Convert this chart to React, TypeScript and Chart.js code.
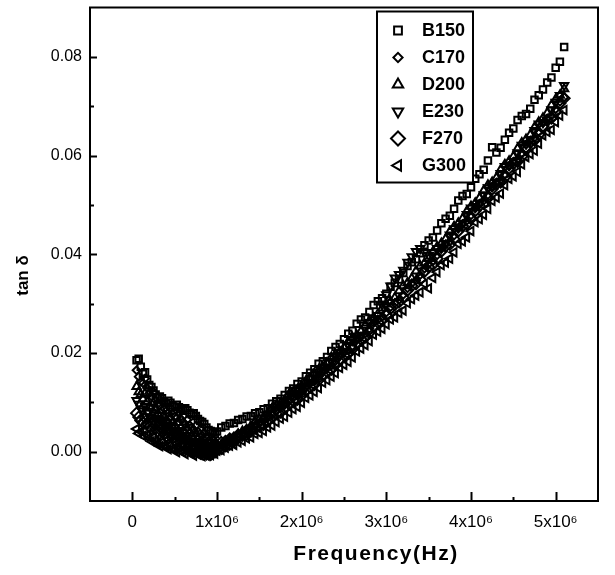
import React, { useEffect, useRef } from 'react';
import { Chart, registerables } from 'chart.js';
import { drawPoint } from 'chart.js/helpers';

Chart.register(...registerables);

// Frequencies in MHz (converted to Hz for the chart)
const FREQ_MHZ = [
  0.05, 0.075, 0.1, 0.125, 0.15, 0.175, 0.2, 0.225, 0.25, 0.275,
  0.3, 0.325, 0.35, 0.375, 0.4, 0.425, 0.45, 0.475, 0.5, 0.525,
  0.55, 0.575, 0.6, 0.625, 0.65, 0.675, 0.7, 0.725, 0.75, 0.775,
  0.8, 0.825, 0.85, 0.875, 0.9, 0.925, 0.95, 0.975, 1.0,
  1.05, 1.1, 1.15, 1.2, 1.25, 1.3, 1.35, 1.4, 1.45, 1.5,
  1.55, 1.6, 1.65, 1.7, 1.75, 1.8, 1.85, 1.9, 1.95, 2.0,
  2.05, 2.1, 2.15, 2.2, 2.25, 2.3, 2.35, 2.4, 2.45, 2.5,
  2.55, 2.6, 2.65, 2.7, 2.75, 2.8, 2.85, 2.9, 2.95, 3.0,
  3.05, 3.1, 3.15, 3.2, 3.25, 3.3, 3.35, 3.4, 3.45, 3.5,
  3.55, 3.6, 3.65, 3.7, 3.75, 3.8, 3.85, 3.9, 3.95, 4.0,
  4.05, 4.1, 4.15, 4.2, 4.25, 4.3, 4.35, 4.4, 4.45, 4.5,
  4.55, 4.6, 4.65, 4.7, 4.75, 4.8, 4.85, 4.9, 4.95, 5.0,
  5.05, 5.1,
];

const B150 = [
  0.0185, 0.0188, 0.0172, 0.0158, 0.0161, 0.0146, 0.0135, 0.0131, 0.0124, 0.0116,
  0.0109, 0.0112, 0.0108, 0.0101, 0.0098, 0.0103, 0.0099, 0.0094, 0.0091, 0.0095,
  0.009, 0.0086, 0.0083, 0.0088, 0.0084, 0.0079, 0.0076, 0.0078, 0.0072, 0.0066,
  0.0062, 0.006, 0.0056, 0.0049, 0.0044, 0.0042, 0.0039, 0.0036, 0.0041,
  0.0049, 0.0052, 0.0057, 0.0058, 0.0064, 0.0066, 0.0071, 0.0072, 0.0078, 0.008,
  0.0086, 0.0088, 0.0097, 0.0102, 0.0107, 0.0115, 0.0123, 0.0128, 0.0137, 0.0142,
  0.0153, 0.016, 0.0167, 0.0178, 0.0183, 0.0192, 0.0204, 0.0212, 0.0218, 0.0228,
  0.0239, 0.0245, 0.0259, 0.0268, 0.0272, 0.0283, 0.0297, 0.0305, 0.0311, 0.032,
  0.0334, 0.0342, 0.0349, 0.0362, 0.0376, 0.0384, 0.039, 0.0402, 0.0418, 0.0428,
  0.0434, 0.0448, 0.0463, 0.0472, 0.0478, 0.0492, 0.0509, 0.0518, 0.0522, 0.0536,
  0.0553, 0.0562, 0.0571, 0.059, 0.0617, 0.0606, 0.0616, 0.0632, 0.0646, 0.0655,
  0.0672, 0.068, 0.0684, 0.0695, 0.0713, 0.0722, 0.0734, 0.0748, 0.0758, 0.0778,
  0.079, 0.082,
];
const C170 = [
  0.0165, 0.0152, 0.0142, 0.0139, 0.0148, 0.0129, 0.0118, 0.0112, 0.0121, 0.0104,
  0.0096, 0.0094, 0.0101, 0.0087, 0.0083, 0.0078, 0.0088, 0.0076, 0.0071, 0.0069,
  0.0077, 0.0066, 0.006, 0.0055, 0.0064, 0.0054, 0.0049, 0.0044, 0.0052, 0.0041,
  0.0036, 0.0032, 0.0038, 0.0028, 0.0022, 0.0019, 0.0025, 0.0018, 0.0015,
  0.0022, 0.0024, 0.0029, 0.0031, 0.0037, 0.0038, 0.0046, 0.0049, 0.0051, 0.0057,
  0.0066, 0.0071, 0.0074, 0.0082, 0.009, 0.0095, 0.0104, 0.011, 0.0113, 0.0121,
  0.0131, 0.0138, 0.0143, 0.0152, 0.0162, 0.0169, 0.0174, 0.0184, 0.0194, 0.0201,
  0.0205, 0.0214, 0.0226, 0.0233, 0.0239, 0.0249, 0.0261, 0.0268, 0.0273, 0.0282,
  0.0293, 0.0301, 0.0308, 0.0318, 0.0331, 0.0341, 0.0347, 0.0358, 0.0371, 0.038,
  0.0386, 0.0398, 0.0411, 0.042, 0.0426, 0.0438, 0.0452, 0.0461, 0.0468, 0.0479,
  0.0493, 0.0502, 0.0509, 0.052, 0.0535, 0.0544, 0.0551, 0.0562, 0.0578, 0.0587,
  0.0593, 0.0605, 0.0622, 0.063, 0.0636, 0.0648, 0.0666, 0.0675, 0.0681, 0.0694,
  0.0709, 0.0718,
];
const D200 = [
  0.0132, 0.0121, 0.0116, 0.0107, 0.0118, 0.0101, 0.0092, 0.0088, 0.0099, 0.0084,
  0.0077, 0.0071, 0.0083, 0.0068, 0.0063, 0.0059, 0.007, 0.0058, 0.0052, 0.0047,
  0.0059, 0.0049, 0.0042, 0.0038, 0.0048, 0.0037, 0.0031, 0.0027, 0.0036, 0.0026,
  0.002, 0.0017, 0.0024, 0.0015, 0.0011, 0.0009, 0.0016, 0.0012, 0.0012,
  0.0014, 0.0018, 0.0024, 0.0027, 0.0035, 0.0041, 0.0045, 0.0052, 0.0061, 0.0066,
  0.007, 0.0078, 0.0088, 0.0094, 0.0098, 0.0104, 0.0116, 0.0121, 0.0126, 0.0134,
  0.0143, 0.0149, 0.0159, 0.0166, 0.0172, 0.018, 0.0191, 0.0198, 0.0203, 0.0211,
  0.0223, 0.0231, 0.0236, 0.0244, 0.0256, 0.0265, 0.0271, 0.0279, 0.0291, 0.0299,
  0.0304, 0.0312, 0.0326, 0.0336, 0.0342, 0.0351, 0.0366, 0.0376, 0.0382, 0.0391,
  0.0405, 0.0415, 0.0422, 0.0431, 0.0446, 0.0456, 0.0463, 0.0472, 0.0487, 0.0497,
  0.0504, 0.0514, 0.0529, 0.054, 0.0546, 0.0555, 0.0571, 0.0582, 0.0589, 0.0598,
  0.0614, 0.0626, 0.0633, 0.0642, 0.0657, 0.0668, 0.0676, 0.0686, 0.0702, 0.0714,
  0.0722, 0.0735,
];
const E230 = [
  0.0104, 0.0096, 0.0087, 0.0083, 0.0092, 0.0079, 0.0071, 0.0068, 0.0078, 0.0064,
  0.0059, 0.0055, 0.0065, 0.0052, 0.0047, 0.0043, 0.0054, 0.0041, 0.0037, 0.0034,
  0.0043, 0.0032, 0.0027, 0.0023, 0.0033, 0.0022, 0.0016, 0.0013, 0.0021, 0.0012,
  0.0007, 0.0004, 0.0011, 0.0003, 0.0002, 0.0001, 0.0007, 0.0005, 0.0007,
  0.0009, 0.0015, 0.0021, 0.0024, 0.003, 0.0036, 0.0042, 0.0046, 0.0054, 0.0059,
  0.0063, 0.0069, 0.0077, 0.0083, 0.0091, 0.0097, 0.0102, 0.0109, 0.0119, 0.0126,
  0.013, 0.0139, 0.015, 0.0158, 0.0163, 0.0171, 0.0183, 0.0192, 0.0196, 0.0203,
  0.0216, 0.0226, 0.023, 0.0236, 0.0251, 0.0262, 0.0267, 0.0276, 0.0298, 0.0318,
  0.0336, 0.0352, 0.0359, 0.0368, 0.0384, 0.0395, 0.0406, 0.0412, 0.0404, 0.0398,
  0.0404, 0.0412, 0.0415, 0.0422, 0.0439, 0.0452, 0.0456, 0.0463, 0.0481, 0.0494,
  0.0497, 0.0503, 0.0521, 0.0535, 0.0539, 0.0546, 0.0564, 0.0578, 0.0581, 0.0588,
  0.0606, 0.0621, 0.0624, 0.0632, 0.0651, 0.0664, 0.0667, 0.0672, 0.0693, 0.0708,
  0.0722, 0.0742,
];
const F270 = [
  0.0078, 0.007, 0.0063, 0.0059, 0.0069, 0.0057, 0.0051, 0.0047, 0.0058, 0.0046,
  0.0041, 0.0037, 0.0047, 0.0036, 0.0031, 0.0028, 0.0038, 0.0027, 0.0022, 0.0019,
  0.0029, 0.0018, 0.0013, 0.0011, 0.002, 0.0009, 0.0005, 0.0002, 0.0011, 0.0001,
  -0.0001, -0.0003, 0.0004, -0.0005, -0.0004, -0.0006, 0.0002, -0.0001, 0.0004,
  0.0006, 0.0012, 0.0015, 0.0021, 0.0028, 0.0033, 0.0035, 0.0041, 0.0048, 0.0052,
  0.0055, 0.0062, 0.0071, 0.0077, 0.008, 0.0088, 0.0097, 0.0103, 0.0106, 0.0114,
  0.0124, 0.0131, 0.0136, 0.0145, 0.0155, 0.0162, 0.0167, 0.0176, 0.0187, 0.0195,
  0.0199, 0.0208, 0.022, 0.0228, 0.0232, 0.0241, 0.0254, 0.0262, 0.0267, 0.0276,
  0.029, 0.0298, 0.0303, 0.0312, 0.0327, 0.0336, 0.034, 0.0349, 0.0365, 0.0374,
  0.0379, 0.0391, 0.0406, 0.0416, 0.042, 0.0431, 0.0447, 0.0457, 0.0461, 0.0472,
  0.0488, 0.0498, 0.0503, 0.0514, 0.0532, 0.0542, 0.0546, 0.0556, 0.0574, 0.0584,
  0.0588, 0.0598, 0.0617, 0.0627, 0.0631, 0.0642, 0.066, 0.0671, 0.0676, 0.0688,
  0.0706, 0.0716,
];
const G300 = [
  0.0046, 0.0037, 0.0041, 0.0032, 0.0042, 0.0034, 0.0028, 0.0021, 0.0029, 0.0022,
  0.0016, 0.0011, 0.0019, 0.0012, 0.001, 0.0005, 0.0013, 0.0006, 0.0004, -0.0001,
  0.0008, 0.0001, -0.0001, -0.0005, 0.0003, -0.0003, -0.0004, -0.0008, -0.0001, -0.0006,
  -0.0007, -0.0009, -0.0003, -0.0008, -0.0006, -0.0007, -0.0002, -0.0004, 0.0002,
  0.0003, 0.0008, 0.0012, 0.0014, 0.0019, 0.0022, 0.0027, 0.0029, 0.0036, 0.0038,
  0.0042, 0.0049, 0.0053, 0.006, 0.0067, 0.0071, 0.0079, 0.0086, 0.0091, 0.0099,
  0.0109, 0.0114, 0.0121, 0.0129, 0.014, 0.0145, 0.0152, 0.0159, 0.017, 0.0176,
  0.0182, 0.0191, 0.0203, 0.0209, 0.0216, 0.0224, 0.0237, 0.0243, 0.0249, 0.0258,
  0.0268, 0.0272, 0.0281, 0.0286, 0.0301, 0.0309, 0.0316, 0.0323, 0.034, 0.0331,
  0.0352, 0.0364, 0.0378, 0.0383, 0.0391, 0.0404, 0.0421, 0.0426, 0.0434, 0.0447,
  0.0465, 0.0471, 0.048, 0.0492, 0.0508, 0.0515, 0.0523, 0.054, 0.0553, 0.0558,
  0.0567, 0.0582, 0.0597, 0.0603, 0.061, 0.0624, 0.0641, 0.0648, 0.0652, 0.0668,
  0.0681, 0.0692,
];

const SERIES_LABELS = ['B150', 'C170', 'D200', 'E230', 'F270', 'G300'];
const SERIES_VALUES = [B150, C170, D200, E230, F270, G300];

const X_TICK_LABELS = ['0', '1x10⁶', '2x10⁶', '3x10⁶', '4x10⁶', '5x10⁶'];
const Y_TICK_LABELS = ['0.00', '0.02', '0.04', '0.06', '0.08'];
const X_TITLE = 'Frequency(Hz)';
const Y_TITLE = 'tan δ';

const X_MIN = -0.5e6;
const X_MAX = 5.5e6;
const Y_MIN = -0.01;
const Y_MAX = 0.09;

const FONT = "'Liberation Sans', Arial, Helvetica, sans-serif";

const MARKERS = [
  { pointStyle: 'rect', rotation: 0, radius: 4.6, legendRadius: 5.5 },
  { pointStyle: 'rectRot', rotation: 0, radius: 3.9, legendRadius: 4.6 },
  { pointStyle: 'triangle', rotation: 0, radius: 4.8, legendRadius: 6 },
  { pointStyle: 'triangle', rotation: 180, radius: 4.8, legendRadius: 6 },
  { pointStyle: 'rectRot', rotation: 0, radius: 5.5, legendRadius: 7 },
  { pointStyle: 'triangle', rotation: 270, radius: 4.8, legendRadius: 6 },
];

const decorPlugin = {
  id: 'decor',
  afterDraw(chart: any) {
    const { ctx, chartArea: a, scales } = chart;
    const xs = scales.x;
    const ys = scales.y;
    ctx.save();
    ctx.strokeStyle = '#000';
    ctx.fillStyle = '#000';

    // frame
    ctx.lineWidth = 2;
    ctx.strokeRect(a.left, a.top, a.right - a.left, a.bottom - a.top);

    // inward ticks
    ctx.lineWidth = 2;
    for (let k = 1; k < 12; k++) {
      const v = X_MIN + k * 0.5e6;
      const px = Math.round(xs.getPixelForValue(v)) + 0.5;
      const len = k % 2 === 1 ? 9 : 4;
      ctx.beginPath();
      ctx.moveTo(px, a.bottom);
      ctx.lineTo(px, a.bottom - len);
      ctx.stroke();
    }
    for (let k = 1; k < 10; k++) {
      const v = Y_MIN + k * 0.01;
      const py = Math.round(ys.getPixelForValue(v)) + 0.5;
      const len = k % 2 === 1 ? 7 : 4;
      ctx.beginPath();
      ctx.moveTo(a.left, py);
      ctx.lineTo(a.left + len, py);
      ctx.stroke();
    }

    // axis titles
    ctx.font = `bold 21px ${FONT}`;
    (ctx as any).letterSpacing = '1.5px';
    ctx.textAlign = 'center';
    ctx.textBaseline = 'alphabetic';
    ctx.fillText(X_TITLE, a.left + 286, a.bottom + 59);
    (ctx as any).letterSpacing = '0px';

    ctx.save();
    ctx.translate(a.left - 67, a.top + 268);
    ctx.rotate(-Math.PI / 2);
    ctx.font = `bold 17px ${FONT}`;
    ctx.textAlign = 'center';
    ctx.textBaseline = 'middle';
    ctx.fillText(Y_TITLE, 0, 0);
    ctx.restore();

    // legend box
    const lx = a.left + 287;
    const ly = a.top + 4;
    const lw = 96;
    const lh = 171;
    ctx.fillStyle = '#fff';
    ctx.fillRect(lx, ly, lw, lh);
    ctx.lineWidth = 2;
    ctx.strokeRect(lx, ly, lw, lh);
    ctx.font = `bold 18px ${FONT}`;
    ctx.textAlign = 'left';
    ctx.textBaseline = 'middle';
    chart.data.datasets.forEach((ds: any, i: number) => {
      const m = MARKERS[i];
      const cy = ly + 19 + i * 27;
      ctx.strokeStyle = '#000';
      ctx.fillStyle = 'rgba(0,0,0,0)';
      ctx.lineWidth = 2;
      drawPoint(ctx, { pointStyle: m.pointStyle, rotation: m.rotation, radius: m.legendRadius, borderWidth: 2 } as any, lx + 21, cy);
      ctx.fillStyle = '#000';
      ctx.fillText(ds.label, lx + 45, cy + 1);
    });
    ctx.restore();
  },
};

export default function App() {
  const canvasRef = useRef<HTMLCanvasElement | null>(null);

  useEffect(() => {
    if (!canvasRef.current) return;
    const datasets = SERIES_LABELS.map((label, i) => ({
      label,
      data: FREQ_MHZ.map((f, j) => ({ x: f * 1e6, y: SERIES_VALUES[i][j] })),
      showLine: false,
      pointStyle: MARKERS[i].pointStyle,
      rotation: MARKERS[i].rotation,
      pointRadius: MARKERS[i].radius,
      pointHoverRadius: MARKERS[i].radius,
      pointBorderWidth: 2,
      pointBorderColor: '#000',
      pointBackgroundColor: 'rgba(0,0,0,0)',
      borderColor: '#000',
      backgroundColor: 'rgba(0,0,0,0)',
    }));

    const chart = new Chart(canvasRef.current, {
      type: 'scatter',
      data: { datasets },
      options: {
        responsive: false,
        animation: false,
        devicePixelRatio: 1,
        layout: { padding: { left: 0, right: 17, top: 5, bottom: 0 } },
        plugins: {
          legend: { display: false },
          tooltip: { enabled: false },
          title: { display: false },
        },
        scales: {
          x: {
            type: 'linear',
            min: X_MIN,
            max: X_MAX,
            grid: { display: false, drawTicks: false },
            border: { display: false },
            afterFit: (s: any) => {
              s.height = 74;
              s.paddingLeft = 0;
              s.paddingRight = 0;
            },
            afterBuildTicks: (s: any) => {
              s.ticks = X_TICK_LABELS.map((_, i) => ({ value: i * 1e6 }));
            },
            ticks: {
              color: '#000',
              padding: 11,
              maxRotation: 0,
              autoSkip: false,
              font: { family: FONT, size: 17 },
              callback: (v: any) => {
                const idx = Math.round(Number(v) / 1e6);
                return X_TICK_LABELS[idx] ?? '';
              },
            },
          },
          y: {
            type: 'linear',
            min: Y_MIN,
            max: Y_MAX,
            grid: { display: false, drawTicks: false },
            border: { display: false },
            afterFit: (s: any) => {
              s.width = 90;
              s.paddingTop = 0;
              s.paddingBottom = 0;
            },
            afterBuildTicks: (s: any) => {
              s.ticks = Y_TICK_LABELS.map((t) => ({ value: Number(t) }));
            },
            ticks: {
              color: '#000',
              padding: 8,
              autoSkip: false,
              font: { family: FONT, size: 16 },
              callback: (v: any) => {
                const idx = Math.round(Number(v) / 0.02);
                return Y_TICK_LABELS[idx] ?? '';
              },
            },
          },
        },
      },
      plugins: [decorPlugin],
    } as any);

    return () => chart.destroy();
  }, []);

  return (
    <div style={{ position: 'absolute', left: 0, top: 0, width: 615, height: 575, background: '#fff' }}>
      <canvas ref={canvasRef} width={615} height={575} style={{ display: 'block' }} />
    </div>
  );
}
